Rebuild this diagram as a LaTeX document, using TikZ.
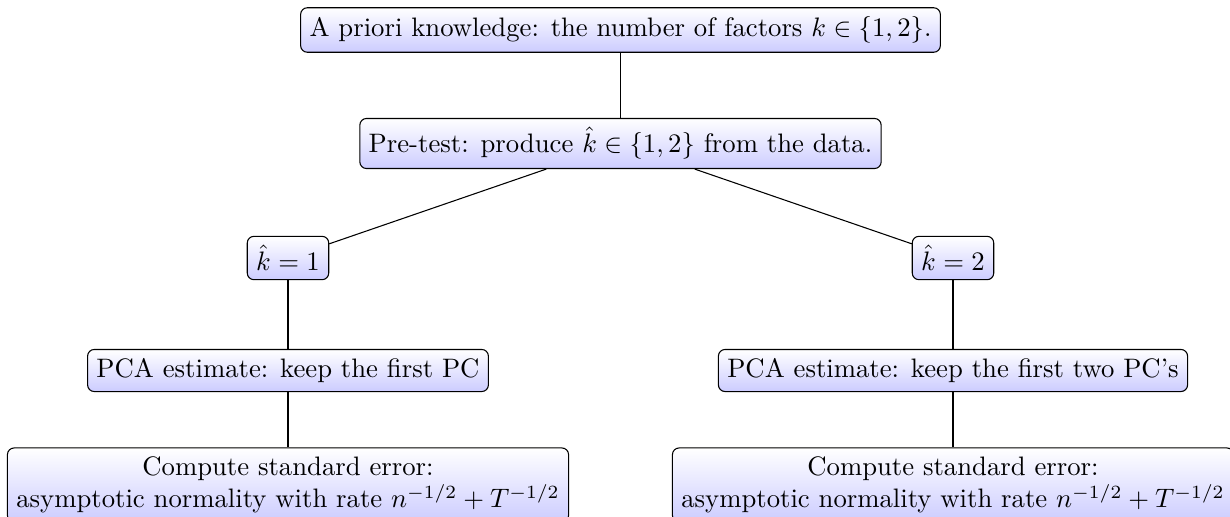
\documentclass[tikz,border=0pt]{standalone}
\usetikzlibrary{shadings}
\begin{document}
\begin{tikzpicture}[x=0.3745pt,y=-0.3745pt,
  box/.style={draw,rounded corners=2.5pt,top color=white,bottom color=blue!20,align=center,inner sep=3.33pt},
  link/.style={draw,line width=0.4pt}]
\useasboundingbox (0,0) rectangle (1230,516);
\node[box] (root) at (620.5,30) {A priori knowledge: the number of factors $k\in\{1,2\}$.};
\node[box] (pre) at (620.5,143.5) {Pre-test: produce $\hat{k}\in\{1,2\}$ from the data.};
\node[box] (k1) at (288,258) {$\hat{k}=1$};
\node[box] (k2) at (953,258) {$\hat{k}=2$};
\node[box] (pca1) at (288,370.5) {PCA estimate: keep the first PC};
\node[box] (pca2) at (953,370.5) {PCA estimate: keep the first two PC's};
\node[box] (se1) at (288,485) {Compute standard error:\\asymptotic normality with rate $n^{-1/2}+T^{-1/2}$};
\node[box] (se2) at (953,485) {Compute standard error:\\asymptotic normality with rate $n^{-1/2}+T^{-1/2}$};
\draw[link] (root) -- (pre);
\draw[link] (pre) -- (k1);
\draw[link] (pre) -- (k2);
\draw[link] (k1) -- (pca1);
\draw[link] (k2) -- (pca2);
\draw[link] (pca1) -- (se1);
\draw[link] (pca2) -- (se2);
\end{tikzpicture}
\end{document}
